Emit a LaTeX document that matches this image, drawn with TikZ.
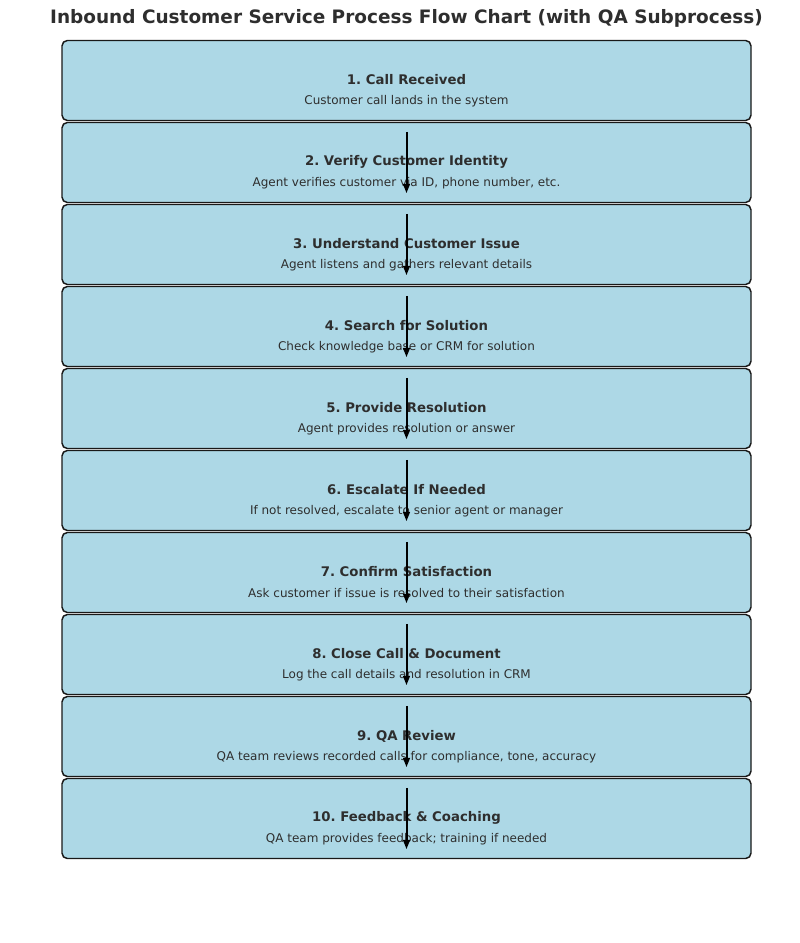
\documentclass[tikz,border=0pt]{standalone}
\usepackage{fontspec}
\setmainfont{DejaVu Sans}
\usetikzlibrary{arrows.meta}
\definecolor{boxfill}{HTML}{ADD8E6}
\definecolor{txt}{HTML}{2E2E2E}
\frenchspacing
\tikzset{
  stepbox/.style={draw=black!90, line width=1.1pt, fill=boxfill, rounded corners=4pt,
    minimum width=516.75pt, minimum height=60pt, inner sep=0pt},
  steptitle/.style={text=txt, font=\fontsize{9.95pt}{12pt}\selectfont\bfseries, inner sep=0pt, anchor=center},
  stepsub/.style={text=txt, font=\fontsize{9pt}{11pt}\selectfont, inner sep=0pt, anchor=center},
  flowarr/.style={line width=1.5pt, -{Triangle[length=7pt,width=5pt]}}
}
\begin{document}
\begin{tikzpicture}[x=0.75pt,y=-0.75pt]
\useasboundingbox[fill=white] (0,0) rectangle (800,943);
\node[text=txt, font=\fontsize{13.85pt}{16pt}\selectfont\bfseries, anchor=center] (title) at (406.5,18.5) {Inbound Customer Service Process Flow Chart (with QA Subprocess)};
\foreach \i/\t/\s in {
 1/{1. Call Received}/{Customer call lands in the system},
 2/{2. Verify Customer Identity}/{Agent verifies customer via ID, phone number, etc.},
 3/{3. Understand Customer Issue}/{Agent listens and gathers relevant details},
 4/{4. Search for Solution}/{Check knowledge base or CRM for solution},
 5/{5. Provide Resolution}/{Agent provides resolution or answer},
 6/{6. Escalate If Needed}/{If not resolved, escalate to senior agent or manager},
 7/{7. Confirm Satisfaction}/{Ask customer if issue is resolved to their satisfaction},
 8/{8. Close Call \& Document}/{Log the call details and resolution in CRM},
 9/{9. QA Review}/{QA team reviews recorded calls for compliance, tone, accuracy},
 10/{10. Feedback \& Coaching}/{QA team provides feedback; training if needed}}{
  \pgfmathsetmacro{\top}{40+82*(\i-1)}
  \node[stepbox] (b\i) at (406.5,\top+40.5) {};
  \node[steptitle] (t\i) at (406.5,\top+40) {\t};
  \node[stepsub] (s\i) at (406.5,\top+61) {\s};
}
\foreach \i [evaluate=\i as \j using int(\i+1)] in {1,...,9}{
  \draw[flowarr] ([yshift=-7.5pt]b\j.north) -- ([yshift=7.5pt]b\j.south);
}
\end{tikzpicture}
\end{document}
